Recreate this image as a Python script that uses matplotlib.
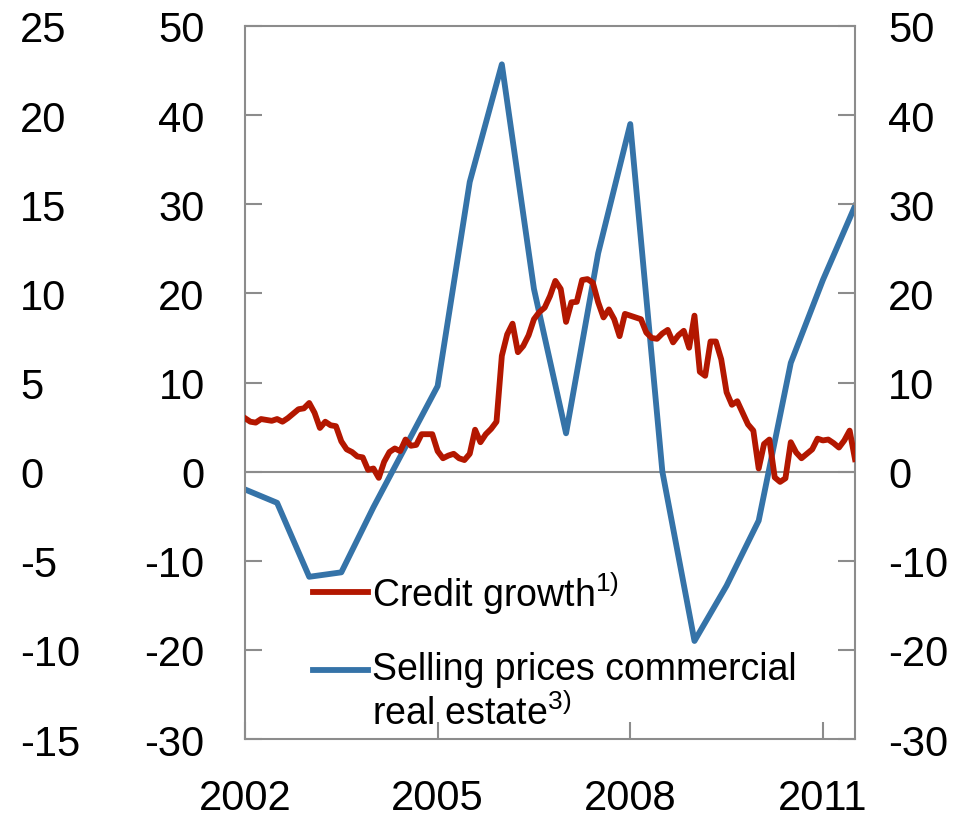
import matplotlib
matplotlib.use("Agg")
from matplotlib import pyplot as plt
from matplotlib.legend_handler import HandlerLine2D

plt.rcParams['font.family'] = ['Liberation Sans', 'DejaVu Sans']
plt.rcParams['mathtext.fontset'] = 'custom'
plt.rcParams['mathtext.rm'] = 'Liberation Sans'
plt.rcParams['axes.unicode_minus'] = False

# credit growth, monthly from Jan 2002 (per cent)
credit_growth = [
    6.0, 5.6, 5.5, 5.9, 5.8, 5.7, 5.9, 5.6, 6.0, 6.5, 7.0, 7.1,
    7.7, 6.6, 4.9, 5.6, 5.2, 5.1, 3.4, 2.5, 2.2, 1.7, 1.6, 0.2,
    0.35, -0.7, 1.1, 2.2, 2.6, 2.3, 3.6, 2.9, 3.0, 4.2, 4.2, 4.2,
    2.3, 1.5, 1.8, 2.0, 1.5, 1.3, 2.0, 4.7, 3.3, 4.2, 4.8, 5.6,
    13.0, 15.4, 16.6, 13.4, 14.1, 15.3, 17.1, 17.9, 18.4, 19.7, 21.4, 20.5,
    16.8, 19.0, 19.05, 21.5, 21.6, 21.2, 19.0, 17.3, 18.2, 17.1, 15.2, 17.7,
    17.5, 17.3, 17.1, 15.6, 15.0, 14.9, 15.5, 15.9, 14.5, 15.3, 15.8, 13.9,
    17.5, 11.2, 10.75, 14.6, 14.6, 12.6, 8.9, 7.5, 7.9, 6.6, 5.3, 4.6,
    0.35, 3.1, 3.6, -0.65, -1.15, -0.75, 3.3, 2.15, 1.5, 2.0, 2.5, 3.7,
    3.5, 3.6, 3.2, 2.7, 3.5, 4.6, 1.4,
]
# selling prices commercial real estate, half-yearly from 2002
selling_prices = [
    -2.0, -3.5, -11.8, -11.3, -4.0, 2.8, 9.6, 32.5, 45.7, 20.5,
    4.3, 24.5, 39.0, 0.0, -19.0, -12.8, -5.5, 12.2, 21.5, 29.8,
]
years = [2002, 2005, 2008, 2011]
left_outer_ticks = [-15, -10, -5, 0, 5, 10, 15, 20, 25]
main_ticks = [-30, -20, -10, 0, 10, 20, 30, 40, 50]

RED = '#B31700'
BLUE = '#3573A8'
GREY = '#8C8C8C'
FS = 30
LEG_FS = 27
LW = 4.2


# legend handle sitting on the first line of a two-line label
class TopLineHandler(HandlerLine2D):
    def __init__(self, shift=0, **kw):
        super().__init__(**kw)
        self.shift = shift

    def create_artists(self, *args, **kwargs):
        arts = super().create_artists(*args, **kwargs)
        for a in arts:
            a.set_ydata([y + self.shift for y in a.get_ydata()])
        return arts


fig = plt.figure(figsize=(9.79, 8.20), dpi=100)
ax = fig.add_axes([245 / 979, 80 / 820, 610 / 979, 713 / 820])

months_red = list(range(len(credit_growth)))
months_blue = [6 * k for k in range(len(selling_prices))]

ax.axhline(0, color=GREY, lw=1.5, zorder=1)
red_line, = ax.plot(months_red, credit_growth, color=RED, lw=LW, zorder=3)
blue_line, = ax.plot(months_blue, selling_prices, color=BLUE, lw=LW, zorder=2)

ax.set_xlim(0, 114)
ax.set_ylim(-30, 50)
ax.set_xticks([12 * (y - 2002) for y in years])
ax.set_xticklabels([str(y) for y in years])
ax.set_yticks(main_ticks)
ax.tick_params(axis='x', direction='in', length=12, width=1.5, color=GREY,
               labelsize=FS, pad=28, top=False)
ax.tick_params(axis='y', direction='in', length=12, width=1.5, color=GREY,
               labelsize=FS, pad=29)
for s in ax.spines.values():
    s.set_color(GREY)
    s.set_linewidth(1.5)

# right axis
ax2 = ax.twinx()
ax2.set_ylim(-30, 50)
ax2.set_yticks(main_ticks)
ax2.tick_params(axis='y', direction='in', length=12, width=1.5, color=GREY,
                labelsize=FS, pad=24)
for s in ax2.spines.values():
    s.set_visible(False)

# outer left axis
ax3 = ax.twinx()
ax3.set_ylim(-15, 25)
ax3.set_yticks(left_outer_ticks)
ax3.yaxis.tick_left()
ax3.tick_params(axis='y', length=0, labelsize=FS, pad=162)
for lab in ax3.get_yticklabels():
    lab.set_horizontalalignment('left')
for s in ax3.spines.values():
    s.set_visible(False)

labels = [r'Credit growth$^{\mathrm{1)}}$',
          'Selling prices commercial\n' + r'real estate$^{\mathrm{3)}}$']
leg = ax3.legend([red_line, blue_line], labels, loc='upper left',
                 bbox_to_anchor=(0.111, 0.238), frameon=False,
                 fontsize=LEG_FS, handlelength=1.47, handletextpad=0.1,
                 labelspacing=0.95, borderaxespad=0, borderpad=0,
                 handler_map={blue_line: TopLineHandler(shift=16)})

fig.savefig('out.png', dpi=100)
